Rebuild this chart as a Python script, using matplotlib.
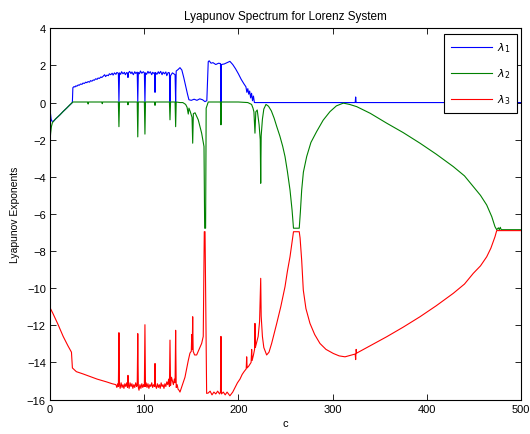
import matplotlib
matplotlib.use('Agg')
import matplotlib.pyplot as plt

# ---------------- data ----------------
c1 = [0, 0.5, 1.2, 2.0, 3.5, 6, 10.6, 14, 17.7, 21, 23.3, 23.8,
      24.3, 25.5, 26.5, 27.5, 28.5, 30, 31, 32.5, 34, 35, 36.5, 38, 39, 40.5, 42,
      43, 44.5, 46, 47, 48.5, 50, 51, 52.5, 54, 55, 56.5, 58, 59, 60.5, 62,
      63, 64.5, 66, 67, 68.5, 70, 71, 72.6,
      73.2, 73.8, 75, 76, 77.5, 79, 80, 81.5, 82.3, 82.8, 83.3, 84.5, 86, 87, 88.5, 90, 91, 92.6,
      93.2, 93.8, 95, 96, 97.5, 99, 100.2, 100.8, 101.4, 102.5, 104, 105, 106.5, 108, 109, 110.5, 111,
      111.5, 112, 113.5, 115, 116, 117.5, 119, 120, 121.5, 123, 124, 125.5, 126.8,
      127.4, 128, 130, 132.8, 133.4, 134, 136, 138, 140, 142, 144, 146, 147.5,
      150, 153, 156, 159, 162, 164.5, 166.5,
      168, 169, 171, 173, 176, 179, 181, 181.5, 182, 185, 188, 191, 194, 197, 200, 203, 206,
      208, 209, 210, 211, 212, 213, 214, 215, 216, 217, 218,
      324, 324.5, 325, 500]
lam1 = [-0.35, -0.6, -0.9, -1.0, -1.02, -0.88, -0.66, -0.48, -0.3, -0.13, -0.02, 0.05,
        0.8, 0.86, 0.84, 0.9, 0.88, 0.95, 0.93, 1.0, 0.98, 1.05, 1.03, 1.1, 1.07, 1.13, 1.1,
        1.18, 1.15, 1.22, 1.2, 1.28, 1.25, 1.32, 1.3, 1.38, 1.35, 1.42, 1.5, 1.4, 1.48, 1.45,
        1.55, 1.5, 1.58, 1.48, 1.6, 1.52, 1.62, 1.58,
        0.05, 1.6, 1.52, 1.66, 1.55, 1.63, 1.5, 1.62, 1.58, 1.35, 1.6, 1.68, 1.56, 1.65, 1.5, 1.66, 1.57, 1.64,
        0.05, 1.62, 1.55, 1.7, 1.58, 1.66, 1.6, 0.0, 1.6, 1.52, 1.68, 1.58, 1.66, 1.5, 1.63, 1.56, 1.6,
        0.55, 1.62, 1.52, 1.66, 1.56, 1.68, 1.5, 1.64, 1.55, 1.65, 1.45, 1.62, 1.6,
        0.05, 1.45, 1.6, 1.5, 0.0, 1.7, 1.78, 1.88, 1.75, 1.35, 0.9, 0.45, 0.15,
        0.12, 0.18, 0.12, 0.2, 0.15, 0.05, 0.1,
        2.2, 2.25, 2.12, 2.15, 2.05, 2.12, 2.1, 0.0, 2.05, 2.08, 2.15, 2.22, 2.05, 1.82, 1.55, 1.25, 1.0,
        0.85, 0.55, 0.75, 0.45, 0.62, 0.25, 0.5, 0.1, 0.35, 0.0, 0.0,
        0.0, 0.3, 0.0, 0.0]

c2 = [0, 0.7, 1.5, 2.5, 3.5, 6, 10.6, 14, 17.7, 21, 23.3, 24.5,
      40, 40.5, 41, 55, 55.5, 56, 72.6, 73.2, 73.8, 82.3, 82.8, 83.3, 92.6, 93.2, 93.8,
      100.2, 100.8, 101.4,
      111, 111.5, 112, 126.8, 127.4, 128, 132.8, 133.4, 134, 138, 141, 144, 145.5, 146.8,
      147.5, 149, 150.8, 151.5, 152.2, 154, 157.4, 161, 163.5, 164.2, 165.2, 165.8, 168,
      181, 181.5, 182, 200, 210, 214, 215.5, 216.5, 217.6, 218.5, 220, 222, 223.2, 223.7,
      224.2, 225.5, 227, 229.3,
      232, 235, 238, 240.7, 244, 247, 249.5, 252, 254.8, 257, 258.5, 264.6, 265.8, 267.2,
      269, 272.5, 277, 283.1, 290, 297.2, 304, 311.4, 318, 325.6, 340, 357.4, 375, 392.8,
      410, 428.1, 440, 449.4, 457, 463.6, 469, 472.4, 474.2, 476, 477, 478, 479, 500]
lam2 = [-2.1, -1.65, -1.3, -1.1, -1.02, -0.88, -0.66, -0.48, -0.3, -0.13, -0.02, 0.03,
        0.03, -0.08, 0.03, 0.03, -0.06, 0.03, 0.03, -1.3, 0.03, 0.03, -0.12, 0.03, 0.03, -1.85, 0.03,
        0.03, -1.7, 0.03,
        0.03, -0.15, 0.03, 0.03, -0.93, 0.03, 0.03, -1.3, 0.03, 0.0, 0.0, -0.1, -0.25, -0.62,
        -0.3, -0.5, -0.8, -2.19, -0.6, -0.55, -0.93, -1.65, -2.37, -6.77, -6.77, -0.3, 0.03,
        0.03, -1.2, 0.03, 0.03, 0.0, -0.1, -0.3, -0.5, -1.65, -0.5, -0.4, -1.2, -2.0, -4.35,
        -1.8, -0.9, -0.35, -0.1,
        -0.2, -0.45, -0.85, -1.29, -1.8, -2.35, -2.91, -3.7, -4.71, -5.8, -6.77, -6.77, -5.9, -4.71,
        -3.75, -2.91, -2.15, -1.56, -0.95, -0.49, -0.18, -0.03, -0.1, -0.22, -0.58, -1.11, -1.62, -2.19,
        -2.78, -3.45, -3.95, -4.53, -5.0, -5.52, -6.15, -6.69, -6.85, -6.75, -6.85, -6.72, -6.85, -6.85]

c3 = [0, 3, 8.5, 14, 19, 22.8, 23.8, 28, 35, 42, 50, 60, 66,
      70, 71, 72, 72.6, 73.2, 73.8, 74.5, 75.5, 76.5, 77.5, 78.5, 79.5, 80.5, 81.5, 82.3,
      82.8, 83.3, 84, 85, 86, 87, 88, 89, 90, 91, 92, 92.6, 93.2, 93.8, 94.5,
      95.5, 96.5, 97.5, 98.5, 99.5, 100.2, 100.8, 101.4, 102, 103, 104, 105, 106, 107, 108,
      109, 110, 111, 111.5, 112,
      113, 114, 115, 116, 117, 118, 119, 120, 121, 122, 123, 124, 125, 126, 126.8, 127.4, 128,
      129, 130, 131, 132, 132.8, 133.4, 134, 135, 136, 137, 138,
      140, 143.3, 146.8, 148.6, 150, 150.5, 151, 151.5, 152, 153.5, 155.7, 157.4, 161,
      162.7, 163.8, 164.6, 166.3, 168,
      170, 172, 174, 176, 178, 180, 181, 181.5, 182, 184, 186, 188, 191, 194, 197, 199,
      201.7, 204, 206, 208.3, 208.8, 209.3, 211, 212.3, 213.5, 214.1, 214.6, 216, 217.2,
      217.6, 218, 219.5, 221, 222.5, 223.7, 224.2, 225.5, 227, 230,
      232.5, 235.3, 240.7, 245, 249.5, 252, 254.8, 257.6, 258.5, 264.6, 265.5, 267.2,
      268.9, 271.7, 276, 281, 286.6, 293, 300.8, 307, 313.2, 319, 324, 324.5, 325, 325.6,
      340, 357.4, 375, 392.8, 410, 428.1, 440, 449.4, 457, 463.6, 468, 472.4, 474.2, 500]
lam3 = [-11.05, -11.35, -11.95, -12.6, -13.1, -13.45, -14.3, -14.5, -14.62, -14.75, -14.9, -15.05, -15.15,
        -15.2, -15.35, -15.15, -15.3, -12.4, -15.2, -15.4, -15.1, -15.35, -15.2, -15.4, -15.15, -15.3, -15.1, -15.35,
        -14.7, -15.2, -15.4, -15.1, -15.3, -15.15, -15.4, -15.2, -15.35, -15.1, -15.3, -15.25, -12.45, -15.35, -15.5,
        -15.2, -15.4, -15.15, -15.35, -15.2, -15.3, -11.97, -15.3, -15.1, -15.35, -15.15, -15.4, -15.2, -15.3, -15.1,
        -15.35, -15.2, -15.3, -14.06, -15.25,
        -15.4, -15.15, -15.35, -15.2, -15.4, -15.1, -15.3, -15.2, -15.4, -15.15, -15.3, -15.05, -15.2, -14.9, -15.3, -12.8, -15.25,
        -14.8, -15.0, -15.2, -14.9, -15.1, -12.27, -15.35, -15.2, -15.45, -15.5, -15.6,
        -15.3, -14.8, -13.9, -13.5, -13.4, -12.5, -13.3, -11.54, -13.4, -13.6, -13.6, -13.4, -12.98,
        -12.6, -6.96, -6.96, -15.67, -15.65,
        -15.55, -15.75, -15.6, -15.7, -15.55, -15.7, -15.6, -12.6, -15.7, -15.6, -15.75, -15.6, -15.8, -15.6, -15.3, -15.1,
        -14.9, -14.65, -14.5, -14.35, -13.7, -14.3, -14.2, -14.1, -14.0, -13.3, -13.9, -13.6, -13.3,
        -11.9, -13.2, -12.9, -12.6, -11.8, -9.47, -11.5, -12.6, -13.2, -13.6,
        -13.45, -12.98, -11.9, -11.0, -9.92, -9.1, -8.31, -7.3, -6.96, -6.96, -7.3, -8.5,
        -10.1, -11.1, -11.9, -12.5, -12.98, -13.3, -13.52, -13.65, -13.7, -13.62, -13.55, -13.85, -13.3, -13.5,
        -13.1, -12.62, -12.1, -11.54, -10.95, -10.28, -9.78, -9.2, -8.8, -8.31, -7.85, -7.23, -6.9, -6.9]

series_labels = [r'$\lambda_1$', r'$\lambda_2$', r'$\lambda_3$']
x_ticks = [0, 100, 200, 300, 400, 500]
y_ticks = [4, 2, 0, -2, -4, -6, -8, -10, -12, -14, -16]
title_text = 'Lyapunov Spectrum for Lorenz System'
x_label = 'c'
y_label = 'Lyapunov Exponents'

# ---------------- figure ----------------
plt.rcParams['font.family'] = ['Liberation Sans', 'DejaVu Sans']
plt.rcParams['mathtext.fontset'] = 'dejavusans'

fig = plt.figure(figsize=(5.3, 4.35), dpi=100)
ax = fig.add_axes([0.0943, 0.0793, 0.8887, 0.8533])

ax.plot(c1, lam1, color='#0000ff', lw=0.8, label=series_labels[0])
ax.plot(c2, lam2, color='#008000', lw=0.8, label=series_labels[1])
ax.plot(c3, lam3, color='#ff0000', lw=0.8, label=series_labels[2])

ax.set_xlim(0, 500)
ax.set_ylim(-16, 4)
ax.set_xticks(x_ticks)
ax.set_yticks(y_ticks)
ax.tick_params(direction='in', top=True, right=True, length=4, width=0.6,
               labelsize=8, pad=3)
for s in ax.spines.values():
    s.set_linewidth(0.8)

ax.set_title(title_text, fontsize=8.5, pad=7)
ax.set_xlabel(x_label, fontsize=8, labelpad=3)
ax.set_ylabel(y_label, fontsize=7.5, labelpad=5)

leg = ax.legend(loc='upper right', bbox_to_anchor=(0.992, 0.985), borderaxespad=0,
                fontsize=8, fancybox=False, framealpha=1, edgecolor='black',
                handlelength=3.7, labelspacing=1.1, borderpad=0.6, handletextpad=0.5)
leg.get_frame().set_linewidth(0.8)

fig.savefig('out.png', dpi=100)
